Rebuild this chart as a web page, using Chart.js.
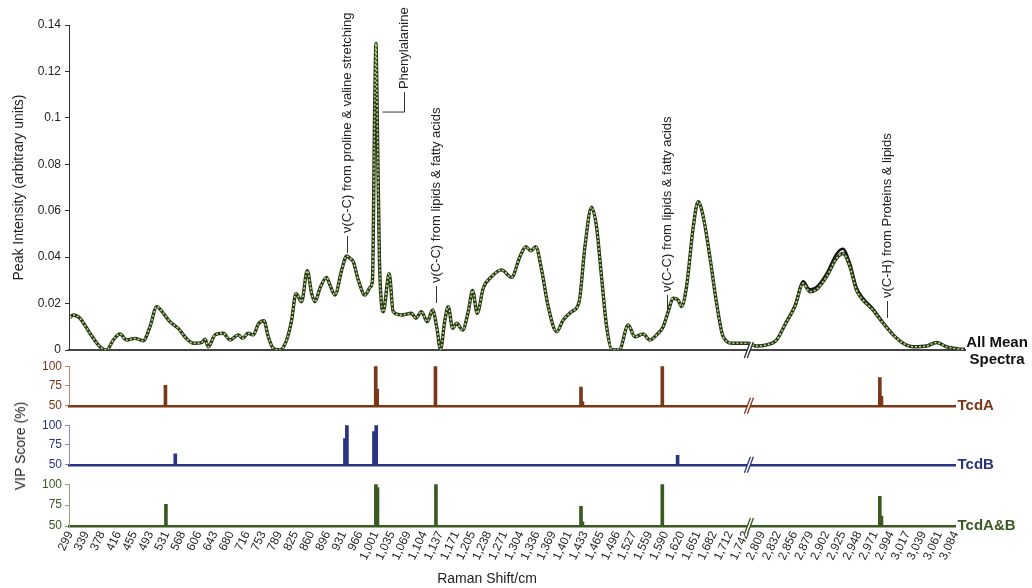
<!DOCTYPE html>
<html lang="en">
<head>
  <meta charset="UTF-8" />
  <title>Raman spectra and VIP scores</title>
  <script src="https://cdn.jsdelivr.net/npm/chart.js"></script>
  <style>
    * { margin: 0; padding: 0; box-sizing: border-box; }
    body {
      width: 1032px;
      height: 588px;
      background: #fff;
      position: relative;
      overflow: hidden;
      font-family: "Liberation Sans", Arial, sans-serif;
    }
    canvas { position: absolute; left: 0; }
    #spectrum { top: 0; }
    #vipA { top: 356px; }
    #vipB { top: 415px; }
    #vipAB { top: 474px; }
    .axis-title {
      position: absolute;
      font-size: 14px;
      color: #222;
      white-space: nowrap;
    }
    #vipTitle { left: 20px; top: 446px; transform: translate(-50%, -50%) rotate(-90deg); }
    #xTitle { left: 487px; top: 578px; transform: translate(-50%, -50%); }
  </style>
</head>
<body>
  <canvas id="spectrum" width="1032" height="370"></canvas>
  <canvas id="vipA" width="1032" height="60"></canvas>
  <canvas id="vipB" width="1032" height="60"></canvas>
  <canvas id="vipAB" width="1032" height="114"></canvas>
  <div class="axis-title" id="vipTitle">VIP Score (%)</div>
  <div class="axis-title" id="xTitle">Raman Shift/cm</div>

  <script>
    // x positions are in tick-label units (0 = "299", 55 = "3,084")
    const tickLabels = ['299', '339', '378', '416', '455', '493', '531', '568', '606', '643',
      '680', '716', '753', '789', '825', '860', '896', '931', '966', '1,001',
      '1,035', '1,069', '1,104', '1,137', '1,171', '1,205', '1,238', '1,271', '1,304', '1,336',
      '1,369', '1,401', '1,433', '1,465', '1,496', '1,527', '1,559', '1,590', '1,620', '1,651',
      '1,682', '1,712', '1,742', '2,809', '2,832', '2,856', '2,879', '2,902', '2,925', '2,948',
      '2,971', '2,994', '3,017', '3,039', '3,061', '3,084'];

    // mean spectrum
    const specX = [0.00, 0.20, 0.62, 1.24, 1.86, 2.28, 2.69, 3.11, 3.52, 4.04,
      4.55, 4.97, 5.39, 5.80, 6.21, 6.73, 7.14, 7.66, 8.18, 8.39,
      8.59, 9.01, 9.52, 9.94, 10.45, 10.73, 11.07, 11.39, 11.70, 12.05,
      12.32, 12.63, 13.04, 13.46, 13.77, 14.04, 14.39, 14.74, 15.01, 15.22,
      15.53, 15.94, 16.15, 16.46, 16.88, 17.19, 17.39, 17.60, 17.91, 18.32,
      18.68, 18.79, 18.94, 19.01, 19.07, 19.22, 19.35, 19.46, 19.83, 20.08,
      20.60, 21.22, 21.49, 21.84, 22.19, 22.53, 22.78, 23.02, 23.29, 23.50,
      23.77, 24.02, 24.39, 24.74, 25.01, 25.30, 25.67, 26.19, 26.81, 27.43,
      27.95, 28.32, 28.63, 28.93, 29.30, 29.71, 30.23, 30.64, 31.16, 31.63,
      31.99, 32.40, 32.71, 33.02, 33.34, 33.65, 34.12, 34.68, 35.09, 35.61,
      36.02, 36.54, 36.85, 37.16, 37.47, 37.78, 37.99, 38.30, 38.72, 39.02,
      39.34, 39.75, 40.17, 40.58, 41.20, 42.13, 42.65, 43.27, 43.89, 44.41,
      45.03, 45.55, 45.96, 46.38, 47.00, 47.62, 48.03, 48.45, 48.86, 49.27,
      49.89, 50.52, 51.14, 51.76, 52.38, 53.21, 53.83, 54.45, 55.28, 55.59];
    const specY = [0.0140, 0.0151, 0.0137, 0.0072, 0.0014, 0.0000, 0.0043, 0.0069, 0.0043, 0.0050,
      0.0040, 0.0100, 0.0187, 0.0158, 0.0122, 0.0093, 0.0057, 0.0029, 0.0032, 0.0046,
      0.0014, 0.0065, 0.0072, 0.0043, 0.0065, 0.0050, 0.0072, 0.0065, 0.0112, 0.0126,
      0.0057, 0.0007, 0.0000, 0.0043, 0.0129, 0.0244, 0.0208, 0.0342, 0.0244, 0.0208,
      0.0266, 0.0313, 0.0280, 0.0237, 0.0345, 0.0405, 0.0395, 0.0380, 0.0302, 0.0237,
      0.0273, 0.0300, 0.1100, 0.1320, 0.1100, 0.0400, 0.0200, 0.0165, 0.0330, 0.0165,
      0.0151, 0.0158, 0.0137, 0.0165, 0.0122, 0.0172, 0.0100, 0.0003, 0.0129, 0.0187,
      0.0093, 0.0115, 0.0086, 0.0165, 0.0256, 0.0158, 0.0266, 0.0316, 0.0345, 0.0313,
      0.0402, 0.0445, 0.0427, 0.0445, 0.0345, 0.0187, 0.0079, 0.0129, 0.0165, 0.0208,
      0.0445, 0.0615, 0.0531, 0.0316, 0.0100, 0.0003, 0.0000, 0.0108, 0.0057, 0.0069,
      0.0043, 0.0072, 0.0100, 0.0165, 0.0223, 0.0215, 0.0187, 0.0273, 0.0531, 0.0639,
      0.0574, 0.0402, 0.0201, 0.0057, 0.0029, 0.0029, 0.0017, 0.0022, 0.0043, 0.0108,
      0.0187, 0.0287, 0.0251, 0.0261, 0.0316, 0.0395, 0.0416, 0.0359, 0.0258, 0.0215,
      0.0172, 0.0115, 0.0065, 0.0029, 0.0014, 0.0017, 0.0032, 0.0014, 0.0004, 0.0003];

    // the darker mean that sits a little higher in the C-H band
    const chX = [44.41, 45.03, 45.55, 45.96, 46.38, 47.00, 47.62, 48.03, 48.45, 48.86, 49.27, 49.89, 50.52, 51.14];
    const chY = [0.0112, 0.0193, 0.0296, 0.0262, 0.0272, 0.0330, 0.0415, 0.0436, 0.0376, 0.0272, 0.0224, 0.0178, 0.0119, 0.0067];

    // VIP scores (%)
    const vipAX = [5.93, 18.99, 19.08, 22.70, 31.74, 31.83, 36.79, 50.30, 50.40];
    const vipAY = [76, 100, 71, 100, 73.5, 55, 100, 85.5, 62];
    const vipBX = [6.54, 17.08, 17.20, 18.88, 19.02, 37.74];
    const vipBY = [64, 83, 100, 92, 100, 62];
    const vipABX = [5.96, 19.00, 19.10, 22.73, 31.74, 31.83, 36.79, 50.30, 50.40];
    const vipABY = [76, 100, 96, 100, 73.5, 55, 100, 85.5, 62];
    const vipTicks = [50, 75, 100];

    // peak assignments on the spectrum
    const noteText = ['\u03BD(C-C) from proline & valine stretching', 'Phenylalanine',
      '\u03BD(C-C) from lipids & fatty acids', '\u03BD(C-C) from lipids & fatty acids',
      '\u03BD(C-H) from Proteins & lipids'];
    const noteAt = [17.19, 19.38, 22.73, 37.08, 50.73];
    const noteLevel = [0.0418, 0.1025, 0.0202, 0.0164, 0.0138];
    const noteKind = ['tick', 'elbow', 'tick', 'tick', 'tick'];

    const X_MIN = -0.06;
    const Y_AXIS_W = 69;
    const BREAK_AT = 42.2;
    const FONT = '"Liberation Sans", Arial, sans-serif';

    Chart.defaults.font.family = FONT;
    Chart.defaults.color = '#222';
    Chart.defaults.animation = false;

    const pts = (xs, ys) => xs.map((x, i) => ({ x: x, y: ys[i] }));

    // "//" on the x axis between 1,742 and 2,809
    const axisBreak = {
      id: 'axisBreak',
      afterDraw(chart, args, opts) {
        const { ctx, chartArea } = chart;
        const x = chart.scales.x.getPixelForValue(opts.at);
        const y = chartArea.bottom;
        ctx.save();
        ctx.fillStyle = '#fff';
        ctx.beginPath();
        ctx.moveTo(x - 5, y + 8);
        ctx.lineTo(x + 1, y - 8);
        ctx.lineTo(x + 4, y - 8);
        ctx.lineTo(x - 2, y + 8);
        ctx.closePath();
        ctx.fill();
        ctx.strokeStyle = opts.color;
        ctx.lineWidth = 1.3;
        [[-5, 1], [-2, 4]].forEach(([a, b]) => {
          ctx.beginPath();
          ctx.moveTo(x + a, y + 8);
          ctx.lineTo(x + b, y - 8);
          ctx.stroke();
        });
        ctx.restore();
      }
    };

    // panel name at the right end of each baseline
    const sideLabel = {
      id: 'sideLabel',
      afterDraw(chart, args, opts) {
        const { ctx, chartArea } = chart;
        ctx.save();
        ctx.font = 'bold 15px ' + FONT;
        ctx.fillStyle = opts.color;
        ctx.textBaseline = 'middle';
        ctx.textAlign = opts.align;
        opts.lines.forEach((t, i) => {
          ctx.fillText(t, chartArea.right + opts.dx, chartArea.bottom + opts.dy + i * 17);
        });
        ctx.restore();
      }
    };

    const peakNotes = {
      id: 'peakNotes',
      afterDatasetsDraw(chart) {
        const { ctx, scales: { x, y } } = chart;
        ctx.save();
        ctx.font = '13px ' + FONT;
        ctx.fillStyle = '#222';
        ctx.strokeStyle = '#333';
        ctx.lineWidth = 1;
        noteText.forEach((text, i) => {
          let px = Math.round(x.getPixelForValue(noteAt[i])) + 0.5;
          let py = y.getPixelForValue(noteLevel[i]);
          ctx.beginPath();
          ctx.moveTo(px, py);
          if (noteKind[i] === 'elbow') {
            px += 22;
            ctx.lineTo(px, py);
            py -= 20;
          } else {
            py -= 17;
          }
          ctx.lineTo(px, py);
          ctx.stroke();
          ctx.save();
          ctx.translate(px, py - 3);
          ctx.rotate(-Math.PI / 2);
          ctx.textAlign = 'left';
          ctx.textBaseline = 'middle';
          ctx.fillText(text, 0, 0);
          ctx.restore();
        });
        ctx.restore();
      }
    };

    new Chart(document.getElementById('spectrum'), {
      type: 'line',
      data: {
        datasets: [
          { data: pts(specX, specY), borderColor: '#b6dc7c', borderWidth: 1.6, borderDash: [2, 2], order: 0 },
          { data: pts(specX, specY), borderColor: '#28361c', borderWidth: 3.4, order: 1 },
          { data: pts(chX, chY), borderColor: '#111', borderWidth: 2.4, order: 2 }
        ]
      },
      options: {
        responsive: false,
        events: [],
        layout: { padding: { top: 25, right: 67, left: 0, bottom: 0 } },
        elements: {
          point: { radius: 0 },
          line: { cubicInterpolationMode: 'monotone' }
        },
        plugins: {
          legend: { display: false },
          tooltip: { enabled: false },
          axisBreak: { at: BREAK_AT, color: '#333' },
          sideLabel: { lines: ['All Mean', 'Spectra'], color: '#111', dx: 32, dy: -7, align: 'center' }
        },
        scales: {
          x: {
            type: 'linear',
            min: X_MIN,
            max: 55.6,
            offset: false,
            ticks: { display: false },
            grid: { display: false, drawTicks: false },
            border: { color: '#444', width: 2 },
            afterFit: s => { s.height = 20; }
          },
          y: {
            min: 0,
            max: 0.14,
            ticks: {
              stepSize: 0.02,
              padding: 4,
              font: { size: 12 },
              callback: v => +v.toFixed(2)
            },
            grid: { display: true, drawOnChartArea: false, tickLength: 4, color: '#333' },
            border: { color: '#333', width: 1 },
            title: {
              display: true,
              text: 'Peak Intensity (arbitrary units)',
              font: { size: 14 },
              padding: { top: 11, bottom: 0 }
            },
            afterFit: s => { s.width = Y_AXIS_W; }
          }
        }
      },
      plugins: [axisBreak, sideLabel, peakNotes]
    });

    function vipChart(id, xs, ys, color, axisColor, name, last) {
      return new Chart(document.getElementById(id), {
        type: 'bar',
        data: {
          datasets: [{ data: pts(xs, ys), base: 50, backgroundColor: color, barThickness: 3, borderWidth: 0 }]
        },
        options: {
          responsive: false,
          events: [],
          layout: { padding: { top: 10, right: 76.5, left: 0, bottom: 0 } },
          plugins: {
            legend: { display: false },
            tooltip: { enabled: false },
            axisBreak: { at: BREAK_AT, color: color },
            sideLabel: { lines: [name], color: color, dx: 2, dy: 0, align: 'left' }
          },
          scales: {
            x: {
              type: 'linear',
              min: X_MIN,
              max: 55,
              offset: false,
              grid: { display: false, drawTicks: false, offset: false },
              border: { color: color, width: 2.5 },
              ticks: last ? {
                autoSkip: false,
                minRotation: 65,
                maxRotation: 65,
                padding: 3,
                font: { size: 12 },
                color: '#222',
                callback: v => tickLabels[v] ?? ''
              } : { display: false },
              afterBuildTicks: s => { s.ticks = tickLabels.map((t, i) => ({ value: i })); },
              afterFit: s => { s.height = last ? 62 : 8; }
            },
            y: {
              min: 50,
              max: 100,
              afterBuildTicks: s => { s.ticks = vipTicks.map(v => ({ value: v })); },
              ticks: { color: color, font: { size: 12 }, padding: 3 },
              grid: { display: true, drawOnChartArea: false, tickLength: 4, color: axisColor },
              border: { color: axisColor, width: 1 },
              afterFit: s => { s.width = Y_AXIS_W; }
            }
          }
        },
        plugins: [axisBreak, sideLabel]
      });
    }

    vipChart('vipA', vipAX, vipAY, '#7a3818', '#b58a72', 'TcdA', false);
    vipChart('vipB', vipBX, vipBY, '#2a3380', '#8a90bf', 'TcdB', false);
    vipChart('vipAB', vipABX, vipABY, '#3b5a22', '#8fa47c', 'TcdA&B', true);
  </script>
</body>
</html>
